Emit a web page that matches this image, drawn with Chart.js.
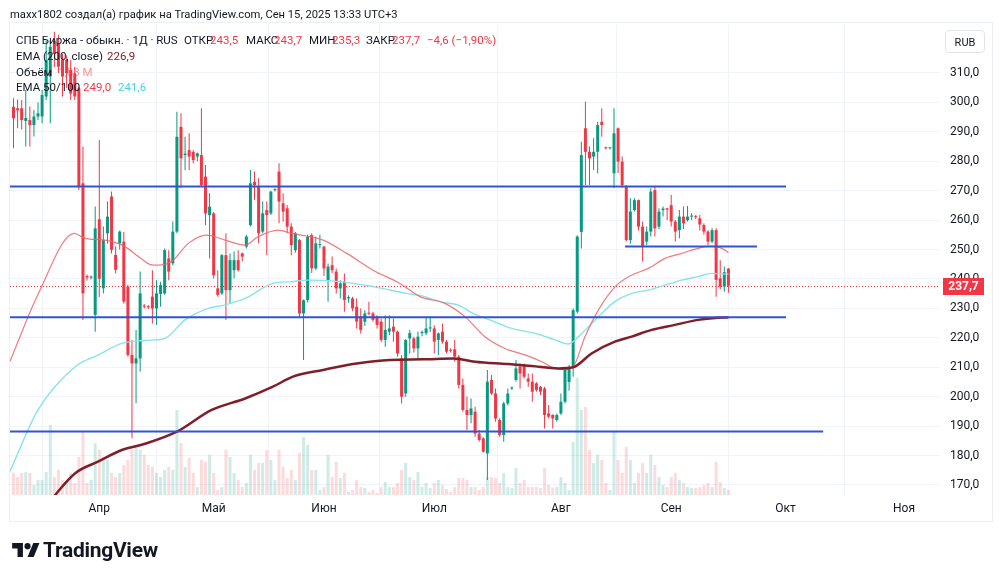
<!DOCTYPE html>
<html>
<head>
<meta charset="utf-8">
<script src="https://cdn.jsdelivr.net/npm/chart.js@4.4.1/dist/chart.umd.min.js"></script>
<style>
  html, body { margin: 0; padding: 0; background: #fff; }
  #wrap { position: relative; width: 1000px; height: 578px; overflow: hidden; font-family: Roboto, sans-serif; color: #131722; }
  #c { position: absolute; left: 0; top: 0; }
  .frame { position: absolute; left: 9px; top: 22px; width: 982px; height: 498px; border: 1px solid #eceff3; pointer-events: none; }
  .credit { position: absolute; left: 10px; top: 7px; font-size: 11.2px; line-height: 16px; white-space: nowrap; }
  .row { position: absolute; left: 0; height: 16px; font-size: 11.5px; line-height: 16px; white-space: nowrap; }
  .row span { position: absolute; top: 0; }
  .r { color: #f23645; }
  .rub { position: absolute; left: 945px; top: 30px; width: 40px; height: 23px; border: 1px solid #e0e3eb; border-radius: 4px; font-size: 11px; line-height: 23px; text-align: center; box-sizing: border-box; }
  .logo { position: absolute; left: 12px; top: 538px; height: 24px; display: flex; align-items: center; }
  .logo span { font-size: 21px; font-weight: 700; margin-left: 3px; letter-spacing: -0.3px; }
</style>
</head>
<body>
<div id="wrap">
  <canvas id="c" width="1000" height="578"></canvas>
  <div class="frame"></div>
  <div class="credit">maxx1802 создал(а) график на TradingView.com, Сен 15, 2025 13:33 UTC+3</div>
  <div class="row" style="top:32px">
    <span style="left:16px">СПБ Биржа - обыкн. · 1Д · RUS</span>
    <span style="left:184px">ОТКР</span><span class="r" style="left:210px">243,5</span>
    <span style="left:246px">МАКС</span><span class="r" style="left:274px">243,7</span>
    <span style="left:309px">МИН</span><span class="r" style="left:332px">235,3</span>
    <span style="left:366px">ЗАКР</span><span class="r" style="left:392px">237,7</span>
    <span class="r" style="left:427px">−4,6 (−1,90%)</span>
  </div>
  <div class="row" style="top:48px">
    <span style="left:16px">EMA (200, close)</span><span style="left:107px;color:#801f2a">226,9</span>
  </div>
  <div class="row" style="top:64px">
    <span style="left:16px">Объём</span><span style="left:58px;color:rgba(242,54,69,0.55)">1,83 M</span>
  </div>
  <div class="row" style="top:79px">
    <span style="left:16px">EMA 50/100</span><span class="r" style="left:83px">249,0</span><span style="left:118px;color:#4dd0e1">241,6</span>
  </div>
  <div class="rub">RUB</div>
  <div class="logo">
    <svg width="28" height="20" viewBox="0 0 36 26"><path fill="#131722" d="M14 22H7V11H0V4h14v18Z"/><circle fill="#131722" cx="20" cy="8" r="4"/><path fill="#131722" d="M28 22h-8l7.5-18h8L28 22Z"/></svg>
    <span>TradingView</span>
  </div>
</div>
<script>
// daily candles, bar index 0..175 (last = Sep 15)
const candleOpen = [
  298.5, 298.0, 298.0, 293.7, 294.0, 292.3, 295.2, 295.2, 302.0, 308.8,
  321.0, 320.0, 314.4, 314.4, 311.0, 309.9, 304.8, 272.5, 241.0, 240.5,
  227.8, 260.3, 236.8, 255.5, 268.0, 248.2, 252.1, 252.7, 237.4, 214.2,
  211.3, 213.0, 230.8, 230.6, 234.0, 230.0, 234.9, 235.1, 247.0, 245.3,
  256.1, 291.7, 282.1, 283.8, 283.2, 281.6, 282.1, 274.8, 261.7, 262.3,
  236.8, 235.1, 248.1, 236.2, 243.0, 246.4, 248.7, 251.0, 258.3, 273.0,
  271.4, 256.1, 263.4, 262.3, 270.2, 276.5, 265.7, 264.0, 257.8, 249.8,
  253.2, 228.3, 232.8, 254.9, 243.6, 251.5, 251.0, 239.6, 244.7, 242.5,
  236.8, 239.1, 233.4, 233.4, 230.6, 227.2, 225.5, 228.4, 228.3, 227.2,
  225.5, 219.3, 222.1, 223.8, 222.1, 213.0, 201.1, 219.8, 219.8, 216.4,
  221.6, 221.6, 223.2, 223.2, 219.3, 222.1, 218.7, 215.9, 216.1, 213.6,
  204.0, 195.5, 193.8, 194.9, 187.5, 185.8, 180.7, 205.7, 201.1, 192.1,
  187.0, 197.7, 202.8, 205.7, 210.2, 210.8, 206.2, 205.1, 204.5, 203.4,
  202.8, 194.3, 193.8, 192.1, 194.3, 198.3, 205.0, 210.2, 228.9, 256.0,
  291.2, 283.2, 281.6, 283.2, 293.4, 284.6, 284.4, 275.9, 291.2, 279.9,
  271.4, 253.2, 263.4, 266.8, 257.8, 252.7, 256.1, 270.2, 257.8, 263.4,
  264.0, 265.1, 259.5, 256.6, 261.2, 260.0, 261.2, 261.3, 260.6, 258.3,
  256.1, 252.7, 256.6, 240.2, 237.4, 243.5
];
const candleHigh = [
  301.4, 301.0, 300.8, 304.2, 298.6, 297.4, 300.0, 304.2, 321.0, 321.0,
  324.0, 323.0, 316.6, 316.0, 314.4, 312.1, 305.3, 285.0, 241.5, 241.2,
  264.6, 287.2, 257.8, 266.3, 269.7, 251.0, 256.5, 256.0, 238.0, 219.3,
  222.7, 242.5, 231.5, 231.2, 243.0, 239.6, 239.1, 250.4, 249.8, 259.5,
  296.8, 296.3, 288.3, 289.5, 283.8, 283.0, 298.0, 278.7, 269.1, 262.8,
  243.0, 248.5, 255.5, 248.7, 249.3, 249.8, 249.0, 255.0, 277.0, 276.5,
  274.2, 266.3, 266.3, 270.0, 270.8, 279.3, 269.1, 265.1, 258.9, 256.0,
  253.6, 233.0, 255.0, 255.5, 254.4, 255.0, 251.3, 245.3, 247.6, 243.6,
  239.6, 241.9, 234.5, 234.0, 233.4, 230.0, 229.4, 232.3, 228.9, 227.7,
  226.6, 227.7, 227.7, 226.6, 222.5, 214.2, 219.5, 222.7, 220.4, 222.1,
  222.5, 227.2, 227.2, 224.3, 221.8, 224.9, 219.3, 216.5, 219.3, 214.2,
  206.2, 200.0, 199.4, 196.6, 188.7, 186.2, 209.1, 207.4, 202.8, 192.6,
  198.3, 202.8, 203.5, 212.5, 211.3, 211.3, 207.9, 207.9, 205.0, 203.6,
  203.4, 197.2, 194.0, 194.3, 201.1, 209.3, 210.8, 230.0, 254.9, 286.6,
  300.2, 285.0, 287.8, 293.4, 298.0, 285.0, 284.8, 298.0, 291.5, 281.6,
  271.9, 267.4, 267.4, 267.0, 259.5, 257.8, 270.8, 271.4, 264.0, 264.6,
  264.2, 268.5, 260.0, 263.4, 264.6, 264.8, 262.3, 261.7, 261.7, 258.9,
  256.6, 257.2, 257.2, 246.4, 244.2, 243.7
];
const candleLow = [
  284.4, 291.2, 290.8, 285.0, 285.0, 288.4, 294.0, 292.9, 300.8, 292.9,
  312.0, 310.0, 302.0, 305.0, 300.8, 300.8, 270.2, 226.1, 239.5, 239.8,
  222.1, 233.9, 235.1, 252.0, 248.7, 241.9, 250.0, 231.7, 213.6, 185.9,
  197.8, 208.5, 230.0, 229.8, 224.9, 224.4, 230.6, 234.6, 239.6, 244.7,
  255.5, 270.8, 277.0, 277.0, 279.3, 280.0, 271.4, 258.3, 247.0, 240.2,
  234.0, 234.6, 226.1, 231.7, 240.2, 242.5, 245.9, 250.4, 257.8, 266.8,
  252.1, 255.5, 248.1, 261.7, 269.7, 258.9, 259.5, 255.5, 248.1, 249.0,
  227.0, 212.5, 232.0, 242.0, 243.0, 250.4, 241.0, 232.3, 242.0, 235.1,
  233.4, 228.9, 232.0, 229.0, 223.2, 221.5, 224.0, 227.7, 225.5, 223.2,
  218.5, 217.0, 221.0, 218.7, 213.6, 197.7, 200.0, 214.7, 215.0, 212.5,
  220.5, 221.0, 222.0, 214.7, 214.2, 218.0, 214.7, 215.0, 211.9, 202.8,
  194.9, 188.7, 191.0, 186.4, 184.7, 181.0, 171.7, 200.6, 191.5, 186.4,
  184.7, 197.0, 202.3, 205.1, 202.8, 206.2, 203.4, 198.3, 201.7, 200.6,
  189.2, 192.6, 189.2, 191.5, 193.8, 197.7, 202.0, 206.8, 228.3, 250.4,
  271.9, 271.9, 277.0, 275.9, 288.3, 284.0, 284.0, 270.8, 276.0, 271.0,
  252.7, 252.0, 262.9, 256.5, 245.9, 251.5, 254.4, 254.4, 257.0, 261.2,
  260.0, 257.8, 252.7, 253.8, 257.0, 259.5, 260.0, 260.4, 256.5, 255.0,
  251.5, 252.1, 234.0, 236.5, 235.7, 235.3
];
const candleClose = [
  294.6, 297.3, 294.0, 294.7, 292.3, 295.2, 296.3, 302.5, 314.4, 318.9,
  316.5, 312.1, 308.8, 309.9, 303.0, 302.0, 271.4, 235.1, 240.5, 240.8,
  257.2, 240.1, 253.2, 261.2, 249.9, 243.1, 256.1, 232.3, 214.2, 211.3,
  213.0, 235.1, 230.6, 230.4, 230.0, 235.1, 237.9, 249.8, 242.5, 256.1,
  288.3, 281.0, 282.6, 281.6, 280.4, 282.7, 271.9, 262.3, 264.6, 241.3,
  234.6, 248.1, 236.2, 246.4, 246.4, 243.0, 247.6, 254.4, 272.5, 271.9,
  255.5, 262.3, 261.7, 269.7, 270.4, 266.3, 262.9, 257.8, 251.5, 255.5,
  228.3, 232.8, 254.4, 243.6, 252.1, 251.7, 243.6, 244.2, 243.0, 236.8,
  238.5, 232.8, 233.8, 230.0, 225.5, 222.7, 228.3, 228.2, 226.1, 224.4,
  219.3, 222.7, 223.2, 222.1, 214.7, 200.0, 219.3, 221.6, 216.4, 220.4,
  221.9, 223.2, 223.5, 218.7, 221.5, 218.7, 215.3, 215.6, 213.6, 204.0,
  195.5, 193.8, 196.0, 187.5, 185.3, 181.3, 205.1, 201.1, 192.6, 187.0,
  197.7, 201.1, 203.0, 209.6, 207.9, 206.8, 205.1, 201.7, 202.3, 201.7,
  193.8, 193.2, 192.6, 193.8, 198.3, 209.1, 210.0, 229.4, 254.4, 282.1,
  283.2, 281.0, 283.2, 292.3, 292.3, 284.4, 284.5, 289.5, 279.9, 271.9,
  253.2, 262.9, 266.8, 257.8, 251.0, 256.1, 269.7, 257.2, 262.9, 263.9,
  263.6, 259.5, 256.1, 261.2, 258.9, 261.2, 261.5, 261.0, 258.5, 256.1,
  252.7, 256.6, 239.7, 237.4, 242.3, 237.7
];
// volume, millions of shares
const volume = [
  8.1, 6.6, 8.1, 8.4, 8.1, 3.7, 5.5, 5.5, 8.4, 25.6,
  6.6, 9.2, 5.5, 4.4, 8.1, 4.4, 13.9, 23.1, 4.4, 5.5,
  19.0, 16.5, 13.9, 12.8, 8.1, 6.6, 8.1, 11.0, 12.8, 16.5,
  18.3, 16.5, 14.7, 11.0, 10.3, 8.1, 6.6, 9.2, 10.3, 9.2,
  31.1, 19.0, 10.3, 13.6, 8.1, 2.9, 12.8, 12.1, 14.7, 8.1,
  1.8, 2.9, 16.5, 13.9, 8.1, 5.5, 2.9, 4.4, 14.7, 9.2,
  11.7, 11.7, 16.5, 12.8, 5.5, 16.5, 10.3, 6.2, 9.2, 5.5,
  15.4, 21.2, 18.3, 9.2, 9.2, 1.8, 2.9, 14.7, 6.6, 12.1,
  6.2, 8.1, 1.1, 1.8, 5.5, 2.9, 2.6, 1.1, 1.8, 0.7,
  2.9, 4.8, 2.9, 2.9, 4.4, 9.2, 11.7, 6.6, 5.5, 8.4,
  2.9, 4.4, 2.6, 4.4, 5.5, 3.7, 2.2, 1.1, 2.9, 6.2,
  6.2, 5.5, 2.9, 2.9, 1.8, 2.9, 6.6, 6.6, 6.2, 4.4,
  8.1, 2.9, 2.6, 9.9, 4.4, 5.5, 2.9, 2.9, 2.9, 2.6,
  9.9, 3.7, 2.6, 2.9, 6.6, 4.4, 1.8, 19.4, 42.9, 31.1,
  32.2, 16.5, 11.7, 14.7, 12.8, 4.4, 1.8, 23.1, 12.8, 8.1,
  17.6, 12.8, 4.4, 8.1, 11.7, 8.1, 14.7, 11.0, 6.6, 3.7,
  2.9, 6.6, 8.1, 5.5, 4.4, 2.9, 2.6, 2.6, 2.9, 3.7,
  4.4, 2.9, 12.1, 4.8, 2.6, 1.83
];

// moving averages (bar index, value)
const ema50Idx = [-0.9, 6.1, 14.9, 17.5, 22.4, 27.3, 30.6, 33.8, 35.4, 38.7, 42.8, 47.3, 51.8, 56.7, 59.9, 64.8, 68.1, 70.1, 75.8, 81.6, 88, 94.6, 99.5, 105.6, 110.5, 115.4, 120.3, 125.2, 129.3, 132.6, 135, 137, 139.9, 143.2, 147.3, 151.3, 155.4, 159.5, 163.6, 167.6, 170.9, 173.4, 175];
const ema50Val = [211.9, 235.1, 255.5, 253.8, 253.2, 251.0, 247.6, 244.8, 244.7, 245.9, 252.1, 254.9, 253.2, 251.5, 254.4, 256.6, 255.5, 255.0, 253.2, 248.7, 243.0, 238.5, 234.0, 231.7, 227.2, 220.4, 216.4, 214.2, 211.9, 209.6, 209.3, 210.2, 220.4, 229.5, 237.4, 241.3, 243.6, 247.0, 248.7, 250.4, 251.2, 250.4, 249.0];
const ema100Idx = [-0.9, 6, 15.1, 20.8, 26.5, 34.6, 37.1, 42, 47.7, 51.8, 56.7, 63.5, 68.1, 71.8, 79.9, 88, 96.3, 100.7, 104.4, 108.9, 112.5, 116.6, 122, 127.7, 132.6, 135.8, 139.1, 143.2, 147.2, 151.3, 155.4, 159.5, 163.6, 167.6, 170.9, 175];
const ema100Val = [174.5, 195.5, 210.2, 214.2, 218.1, 219.3, 219.8, 226.1, 230.0, 231.2, 233.4, 238.5, 239.1, 239.6, 239.1, 237.4, 235.1, 234.0, 232.3, 231.1, 228.3, 226.1, 223.2, 221.5, 219.3, 217.9, 221.5, 227.2, 232.3, 235.1, 236.2, 237.9, 239.6, 240.8, 241.9, 241.6];
const ema200Idx = [7.7, 10.2, 15.1, 20.8, 26.5, 32.2, 40, 48.5, 56.7, 63.5, 68.4, 75.8, 84, 92.2, 100.3, 107.7, 113, 121.1, 126.9, 133.4, 137, 141.5, 147.2, 151.3, 156.2, 161.9, 167.6, 172.5, 175];
const ema200Val = [162.0, 166.6, 174.0, 178.0, 181.9, 184.0, 188.1, 195.5, 199.4, 203.4, 206.8, 209.1, 211.3, 212.5, 212.7, 213.0, 211.9, 211.1, 210.4, 209.6, 210.0, 214.7, 218.7, 220.4, 222.7, 224.4, 226.1, 226.8, 226.9];

// drawn horizontal levels: price, first and last bar index
const levelValues = [271.4, 251.0, 227.0, 188.2];
const levelFrom = [-0.9, 149.7, -0.9, -0.9];
const levelTo = [189.1, 182.0, 189.1, 198.2];

const monthTicks = [21, 49, 76, 103, 134, 161, 189, 218];
const monthLabels = ['Апр', 'Май', 'Июн', 'Июл', 'Авг', 'Сен', 'Окт', 'Ноя'];
const priceTicks = [170, 180, 190, 200, 210, 220, 230, 240, 250, 260, 270, 280, 290, 300, 310];

const UP = '#089981', DOWN = '#f23645';
const lastPrice = candleClose[candleClose.length - 1];

Chart.defaults.font.family = 'Roboto, sans-serif';
Chart.defaults.font.size = 12;
Chart.defaults.color = '#131722';

const bars = candleOpen.map((_, i) => i);
const isUp = bars.map(i => candleClose[i] >= candleOpen[i]);
const toPts = (xs, ys) => xs.map((x, k) => ({ x: x, y: ys[k] }));

const datasets = [];
levelValues.forEach((v, k) => {
    datasets.push({
        type: 'line', data: [{ x: levelFrom[k], y: v }, { x: levelTo[k], y: v }],
        borderColor: '#2f55d4', borderWidth: 2, pointRadius: 0, order: 0
    });
});
datasets.push({
    type: 'line', data: toPts(ema200Idx, ema200Val), borderColor: '#801f2a', borderWidth: 2.5,
    pointRadius: 0, cubicInterpolationMode: 'monotone', order: 1
});
datasets.push({
    type: 'line', data: toPts(ema50Idx, ema50Val), borderColor: 'rgba(236,100,106,0.85)', borderWidth: 1.2,
    pointRadius: 0, cubicInterpolationMode: 'monotone', order: 1
});
datasets.push({
    type: 'line', data: toPts(ema100Idx, ema100Val), borderColor: '#86e3ec', borderWidth: 1.4,
    pointRadius: 0, cubicInterpolationMode: 'monotone', order: 1
});
// candle bodies
datasets.push({
    type: 'bar', data: bars.map(i => ({ x: i, y: [candleOpen[i], candleClose[i]] })),
    backgroundColor: isUp.map(u => u ? UP : DOWN), barThickness: 3, minBarLength: 1,
    grouped: false, inflateAmount: 0, order: 2
});
// wicks
datasets.push({
    type: 'bar', data: bars.map(i => ({ x: i, y: [candleLow[i], candleHigh[i]] })),
    backgroundColor: isUp.map(u => u ? UP : DOWN), barThickness: 1,
    grouped: false, inflateAmount: 0, order: 3
});
// volume
datasets.push({
    type: 'bar', yAxisID: 'vol', data: bars.map(i => ({ x: i, y: volume[i] })),
    backgroundColor: isUp.map(u => u ? 'rgba(8,153,129,0.2)' : 'rgba(242,54,69,0.18)'),
    barThickness: 3, grouped: false, inflateAmount: 0, order: 4
});

const lastPricePlugin = {
    id: 'lastPrice',
    beforeDatasetsDraw(chart) {
        const { ctx, chartArea: a, scales: { y } } = chart;
        const py = Math.round(y.getPixelForValue(lastPrice)) + 0.5;
        ctx.save();
        ctx.strokeStyle = DOWN;
        ctx.lineWidth = 1;
        ctx.setLineDash([1, 2]);
        ctx.beginPath();
        ctx.moveTo(a.left, py);
        ctx.lineTo(a.right, py);
        ctx.stroke();
        ctx.restore();
    },
    afterDraw(chart) {
        const { ctx, chartArea: a, scales: { y } } = chart;
        const py = Math.round(y.getPixelForValue(lastPrice));
        ctx.save();
        ctx.fillStyle = DOWN;
        ctx.fillRect(a.right + 3, py - 8, 41, 17);
        ctx.fillStyle = '#fff';
        ctx.font = 'bold 12px Roboto, sans-serif';
        ctx.textAlign = 'center';
        ctx.textBaseline = 'middle';
        ctx.fillText(lastPrice.toFixed(1).replace('.', ','), a.right + 23.5, py + 1);
        ctx.restore();
    }
};

new Chart(document.getElementById('c'), {
    type: 'bar',
    data: { datasets: datasets },
    options: {
        responsive: false,
        animation: false,
        events: [],
        layout: { padding: { left: 10, top: 25, right: 8, bottom: 57 } },
        plugins: { legend: { display: false }, tooltip: { enabled: false } },
        scales: {
            x: {
                type: 'linear', min: -0.857, max: 226.8, offset: false,
                afterBuildTicks: s => { s.ticks = monthTicks.map(v => ({ value: v })); },
                afterFit: s => { s.height = 26; },
                grid: { color: '#f0f3fa', drawTicks: false },
                border: { display: false },
                ticks: { padding: 7, maxRotation: 0, autoSkip: false, callback: (v, i) => monthLabels[i] }
            },
            y: {
                type: 'linear', position: 'right', min: 166.6, max: 326.3,
                afterBuildTicks: s => { s.ticks = priceTicks.map(v => ({ value: v })); },
                afterFit: s => { s.width = 52; },
                grid: { color: '#f0f3fa', drawTicks: false },
                border: { display: false },
                ticks: { padding: 10, callback: v => v.toFixed(1).replace('.', ',') }
            },
            vol: { type: 'linear', display: false, min: 0, max: 172 }
        }
    },
    plugins: [lastPricePlugin]
});
</script>
</body>
</html>
